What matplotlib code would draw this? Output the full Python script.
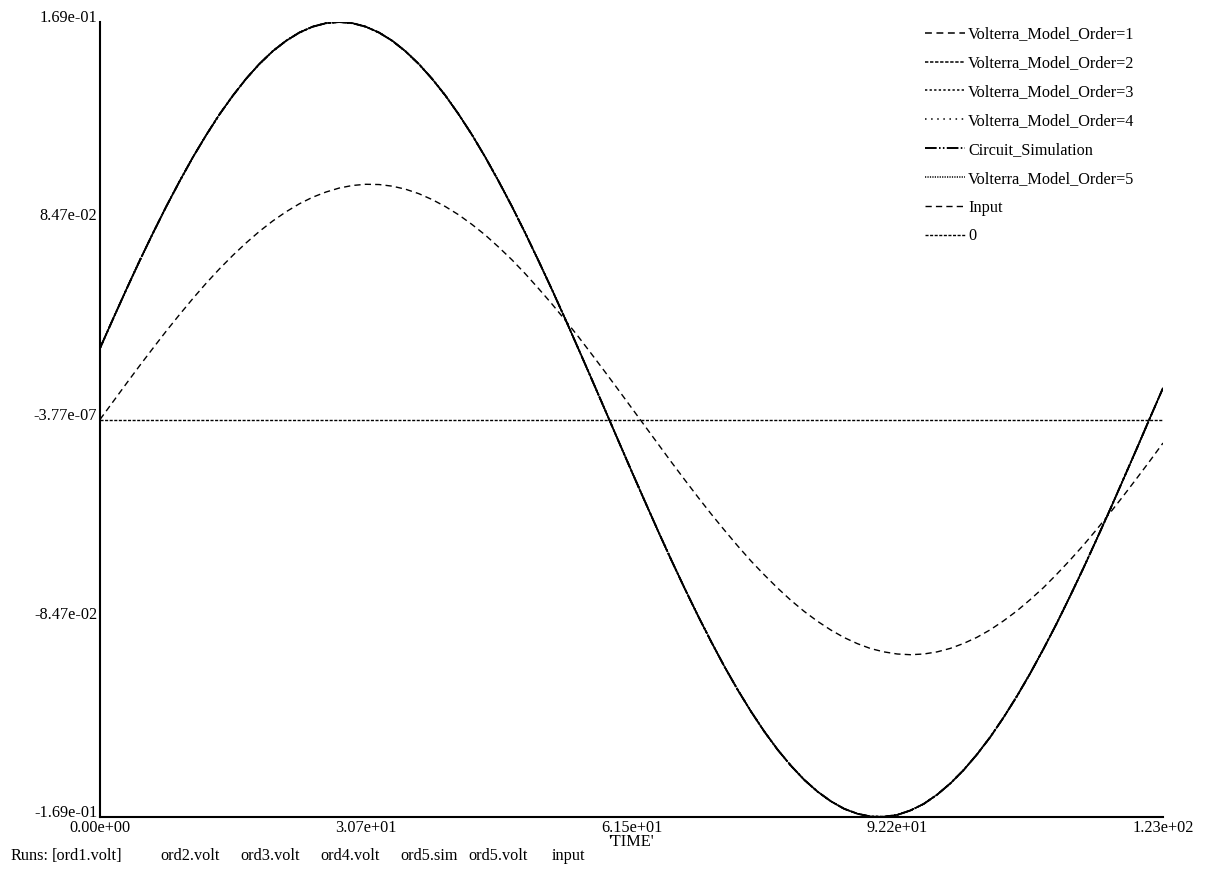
import matplotlib
matplotlib.use("Agg")
import matplotlib.pyplot as plt
import numpy as np

plt.rcParams['font.family'] = ['Liberation Serif', 'DejaVu Serif']

# time axis, read at 81 evenly spaced points over 0..123
time = np.linspace(0, 123, 81)

# circuit output (all Volterra orders sit on top of it)
circuit_sim = [0.0303, 0.0430, 0.0555, 0.0677, 0.0794, 0.0907, 0.1014, 0.1116, 0.1210, 0.1298,
               0.1377, 0.1449, 0.1512, 0.1566, 0.1610, 0.1645, 0.1670, 0.1685, 0.1690, 0.1685,
               0.1670, 0.1645, 0.1610, 0.1565, 0.1511, 0.1448, 0.1377, 0.1297, 0.1210, 0.1115,
               0.1013, 0.0906, 0.0793, 0.0675, 0.0554, 0.0429, 0.0301, 0.0172, 0.0042, -0.0089,
               -0.0219, -0.0347, -0.0474, -0.0598, -0.0718, -0.0834, -0.0945, -0.1051, -0.1150, -0.1242,
               -0.1327, -0.1404, -0.1472, -0.1532, -0.1582, -0.1623, -0.1655, -0.1676, -0.1688, -0.1689,
               -0.1681, -0.1662, -0.1634, -0.1595, -0.1547, -0.1490, -0.1424, -0.1350, -0.1267, -0.1177,
               -0.1080, -0.0976, -0.0867, -0.0752, -0.0633, -0.0510, -0.0385, -0.0256, -0.0127, 0.0004,
               0.0134]
ord1 = circuit_sim
ord2 = circuit_sim
ord3 = circuit_sim
ord4 = circuit_sim
ord5 = circuit_sim

input_sig = [0.0000, 0.0077, 0.0154, 0.0230, 0.0304, 0.0377, 0.0447, 0.0515, 0.0580, 0.0641,
             0.0698, 0.0751, 0.0800, 0.0844, 0.0883, 0.0917, 0.0945, 0.0967, 0.0984, 0.0995,
             0.1000, 0.0999, 0.0992, 0.0979, 0.0960, 0.0935, 0.0905, 0.0870, 0.0829, 0.0784,
             0.0733, 0.0679, 0.0620, 0.0557, 0.0492, 0.0423, 0.0352, 0.0278, 0.0203, 0.0127,
             0.0050, -0.0027, -0.0104, -0.0181, -0.0256, -0.0330, -0.0402, -0.0471, -0.0538, -0.0602,
             -0.0661, -0.0717, -0.0769, -0.0816, -0.0858, -0.0895, -0.0927, -0.0953, -0.0974, -0.0988,
             -0.0997, -0.1000, -0.0997, -0.0988, -0.0973, -0.0952, -0.0926, -0.0894, -0.0856, -0.0814,
             -0.0766, -0.0715, -0.0658, -0.0598, -0.0535, -0.0468, -0.0398, -0.0326, -0.0252, -0.0177,
             -0.0100]
zero_line = [-3.77e-07] * len(time)

y_ticks = [1.69e-01, 8.47e-02, -3.77e-07, -8.47e-02, -1.69e-01]
y_ticklabels = ['1.69e-01', '8.47e-02', '-3.77e-07', '-8.47e-02', '-1.69e-01']
x_ticks = [0, 30.75, 61.5, 92.25, 123]
x_ticklabels = ['0.00e+00', '3.07e+01', '6.15e+01', '9.22e+01', '1.23e+02']

runs = ['Runs:', '[ord1.volt]', 'ord2.volt', 'ord3.volt', 'ord4.volt', 'ord5.sim', 'ord5.volt', 'input']
run_x = [10, 52, 160, 240, 320, 400, 468, 552]

FS = 11.7
W, H = 1209, 873
fig = plt.figure(figsize=(W / 100, H / 100), dpi=100)
ax = fig.add_axes([100 / W, 1 - 817 / H, 1063 / W, 795 / H])

series = [
    (ord1, 'Volterra_Model_Order=1', (0, (4.5, 3)), 1.1),
    (ord2, 'Volterra_Model_Order=2', (0, (2.2, 1.1)), 1.1),
    (ord3, 'Volterra_Model_Order=3', (0, (1.5, 1.5)), 1.1),
    (ord4, 'Volterra_Model_Order=4', (0, (1, 3)), 1.1),
    (circuit_sim, 'Circuit_Simulation', (0, (6, 1.2, 0.8, 1.2, 0.8, 1.2)), 1.4),
    (ord5, 'Volterra_Model_Order=5', (0, (0.8, 0.8)), 1.1),
    (input_sig, 'Input', (0, (4.5, 3)), 1.0),
    (zero_line, '0', (0, (2.2, 1.1)), 1.0),
]
for vals, lab, ls, lw in series:
    ax.plot(time, vals, color='black', linestyle=ls, linewidth=lw, label=lab)

ax.set_xlim(0, 123)
ax.set_ylim(-0.169, 0.169)
for s in ['top', 'right']:
    ax.spines[s].set_visible(False)
for s in ['left', 'bottom']:
    ax.spines[s].set_linewidth(1.5)

ax.set_yticks(y_ticks)
ax.set_yticklabels(y_ticklabels, fontsize=FS, va='baseline')
ax.set_xticks(x_ticks)
ax.set_xticklabels(x_ticklabels, fontsize=FS)
ax.tick_params(axis='both', length=0)
ax.tick_params(axis='y', pad=2)
ax.tick_params(axis='x', pad=2.5)
ax.set_xlabel("'TIME'", fontsize=FS, labelpad=-1.5)

leg = ax.legend(loc='upper left', bbox_to_anchor=(925 / W, 1 - 26.5 / H),
                bbox_transform=fig.transFigure, frameon=False, fontsize=FS,
                handlelength=2.45, handletextpad=0.2, labelspacing=0.79,
                borderpad=0, borderaxespad=0)

for name, x in zip(runs, run_x):
    fig.text(x / W, 1 - 856 / H, name, fontsize=FS, va='center', ha='left')

fig.savefig('out.png', dpi=100)
